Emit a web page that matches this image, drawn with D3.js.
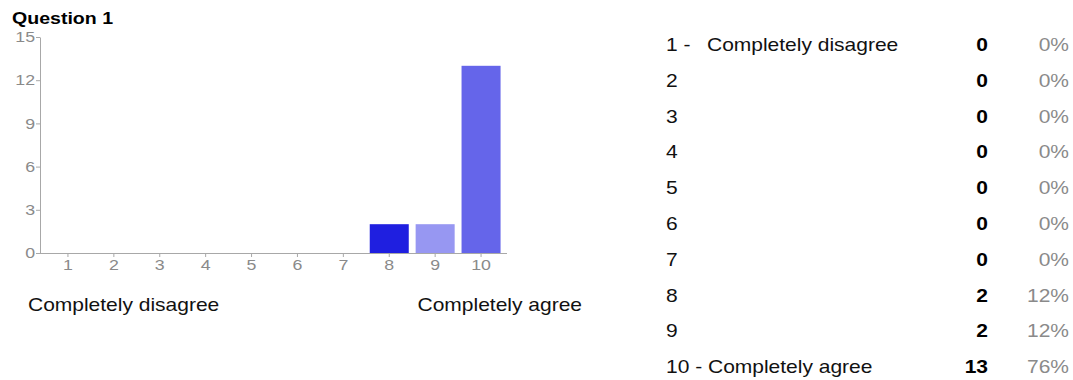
<!DOCTYPE html>
<html>
<head>
<meta charset="utf-8">
<script src="https://cdn.jsdelivr.net/npm/d3@7"></script>
<style>
  html, body { margin: 0; padding: 0; background: #fff; }
  svg { display: block; font-family: "Liberation Sans", Arial, sans-serif; }
</style>
</head>
<body>
<svg id="chart" width="1073" height="380"></svg>
<script>
// Answer scale and response counts
const categories = ["1", "2", "3", "4", "5", "6", "7", "8", "9", "10"];
const counts = [0, 0, 0, 0, 0, 0, 0, 2, 2, 13];
const percents = ["0%", "0%", "0%", "0%", "0%", "0%", "0%", "12%", "12%", "76%"];
const rowLabels = ["1 -", "2", "3", "4", "5", "6", "7", "8", "9", "10 - Completely agree"];
const rowNotes = ["Completely disagree", "", "", "", "", "", "", "", "", ""];
const yTicks = [0, 3, 6, 9, 12, 15];
const barColors = {"8": "#1f1fe0", "9": "#9797f2", "10": "#6565ea"};

// text is drawn slightly wide
const SX = 1.2;
function widen(sel) {
  sel.each(function () {
    const t = d3.select(this);
    const x = +(t.attr("x") || 0);
    t.attr("x", x / SX).attr("transform", `scale(${SX},1)`);
  });
}

const svg = d3.select("#chart");
const FONT = "Liberation Sans, Arial, sans-serif";

svg.append("text")
  .attr("x", 12).attr("y", 24)
  .attr("font-size", 16.3).attr("font-weight", "bold")
  .attr("fill", "#000")
  .text("Question 1")
  .call(widen);

const x = d3.scaleBand().domain(categories).range([45, 504]).paddingInner(0.15).paddingOuter(0.075);
const y = d3.scaleLinear().domain([0, 15]).range([253, 37]);

const axisColor = "#a8a8a8";
const tickText = "#8a8a8a";

// bars
svg.append("g").selectAll("rect")
  .data(categories.map((c, i) => ({c, v: counts[i]})).filter(d => d.v > 0))
  .join("rect")
  .attr("x", d => x(d.c))
  .attr("y", d => y(d.v))
  .attr("width", x.bandwidth())
  .attr("height", d => y(0) - y(d.v))
  .attr("fill", d => barColors[d.c]);

// y axis
const gy = svg.append("g").attr("transform", "translate(40,0)")
  .call(d3.axisLeft(y).tickValues(yTicks).tickSize(4).tickPadding(1).tickSizeOuter(0));
gy.attr("font-size", 14.8).attr("font-family", FONT);
gy.select(".domain").attr("stroke", axisColor);
gy.selectAll(".tick line").attr("stroke", axisColor);
gy.selectAll(".tick text").attr("fill", tickText).call(widen);

// x axis
const gx = svg.append("g").attr("transform", "translate(0,253)");
gx.append("line").attr("x1", 40).attr("x2", 507).attr("y1", 0.5).attr("y2", 0.5).attr("stroke", axisColor);
gx.call(d3.axisBottom(x).tickSize(4).tickPadding(3).tickSizeOuter(0));
gx.attr("font-size", 14.8).attr("font-family", FONT);
gx.select(".domain").remove();
gx.selectAll(".tick line").attr("stroke", axisColor);
gx.selectAll(".tick text").attr("fill", tickText).call(widen);

// scale end captions
svg.append("text").attr("x", 28).attr("y", 311).attr("font-size", 17.5).attr("fill", "#111")
  .text("Completely disagree").call(widen);
svg.append("text").attr("x", 582).attr("y", 311).attr("font-size", 17.5).attr("fill", "#111")
  .attr("text-anchor", "end").text("Completely agree").call(widen);

// summary table
const rowY = d3.scalePoint().domain(categories).range([45, 367]);
const table = svg.append("g").attr("font-size", 17.5);
const rows = table.selectAll("g").data(categories).join("g")
  .attr("transform", d => `translate(0,${rowY(d)})`);
rows.append("text").attr("x", 666).attr("dy", "0.35em").attr("fill", "#111")
  .text((d, i) => rowLabels[i]).call(widen);
rows.append("text").attr("x", 707).attr("dy", "0.35em").attr("fill", "#111")
  .text((d, i) => rowNotes[i]).call(widen);
rows.append("text").attr("x", 988).attr("dy", "0.35em").attr("text-anchor", "end")
  .attr("font-weight", "bold").attr("fill", "#000")
  .text((d, i) => counts[i]).call(widen);
rows.append("text").attr("x", 1069).attr("dy", "0.35em").attr("text-anchor", "end")
  .attr("fill", "#8a8a8a")
  .text((d, i) => percents[i]).call(widen);
</script>
</body>
</html>
